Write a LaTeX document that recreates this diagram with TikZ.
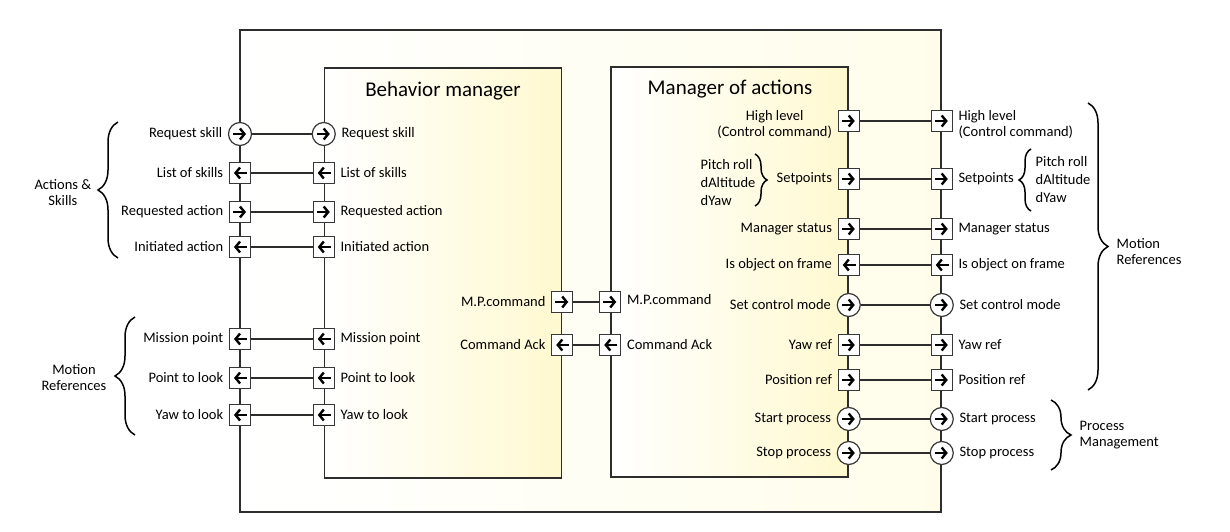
\documentclass[tikz,border=0pt]{standalone}
\usepackage{fontspec}
\setmainfont{Carlito}
\usetikzlibrary{positioning,arrows.meta,decorations.pathreplacing}
\definecolor{blockline}{RGB}{45,45,45}
\definecolor{portline}{RGB}{55,55,55}
\definecolor{outercolor}{RGB}{255,253,234}
\definecolor{innercolor}{RGB}{255,249,208}

\begin{document}
\begin{tikzpicture}[x=1pt, y=-1pt,
		% Block styles
		outerblock/.style={rectangle, draw=blockline, line width=1.5pt, left color=white, right color=outercolor,
			minimum width=701pt, minimum height=482pt},
		innerblock/.style={rectangle, draw=blockline, line width=1.5pt, left color=white, right color=innercolor,
			minimum width=237pt, minimum height=410pt},
		blocktitle/.style={font=\fontsize{21}{24}\selectfont},
		% Port styles
		sqport/.style={rectangle, draw=portline, line width=1.2pt, fill=white, minimum size=21pt, inner sep=0pt},
		cport/.style={circle, draw=portline, line width=1.2pt, fill=white, minimum size=23pt, inner sep=0pt},
		toright/.style={path picture={\draw[black, line width=2.4pt, -{Straight Barb[length=4.5pt, width=11pt]}]
				([xshift=-7pt]path picture bounding box.center) -- ([xshift=6pt]path picture bounding box.center);}},
		toleft/.style={path picture={\draw[black, line width=2.4pt, -{Straight Barb[length=4.5pt, width=11pt]}]
				([xshift=7pt]path picture bounding box.center) -- ([xshift=-6pt]path picture bounding box.center);}},
		% Connector styles
		link/.style={draw=blockline, line width=1.3pt},
		bracket/.style={decorate, decoration={brace, amplitude=#1}, line width=1.5pt},
		bracket/.default=20pt,
		% Text styles
		portlabel/.style={font=\fontsize{14.5}{16}\selectfont, inner sep=1.5pt},
		grouplabel/.style={font=\fontsize{14.5}{16}\selectfont, inner sep=1.5pt},
		listlabel/.style={font=\fontsize{14.5}{18}\selectfont, inner sep=1.5pt, align=left}
		]
		\useasboundingbox (0,0) rectangle (1230,532);
		
		% Blocks
		\node[outerblock] (system) at (590.5,271) {};
		\node[innerblock] (behavior) at (443,273) {};
		\node[innerblock] (actions) at (729.5,272) {};
		\node[blocktitle] (behavior_title) at (443,91) {Behavior manager};
		\node[blocktitle] (actions_title) at (730,89) {Manager of actions};
		
		% Ports - system left side
		\node[cport, toright] (rs_o) at (240,134) {};
		\node[portlabel, left=4pt of rs_o] (rs_o_lbl) {Request skill};
		\node[sqport, toleft] (ls_o) at (240,173) {};
		\node[portlabel, left=4pt of ls_o] (ls_o_lbl) {List of skills};
		\node[sqport, toright] (ra_o) at (240,212) {};
		\node[portlabel, left=4pt of ra_o] (ra_o_lbl) {Requested action};
		\node[sqport, toleft] (ia_o) at (240,247) {};
		\node[portlabel, left=4pt of ia_o] (ia_o_lbl) {Initiated action};
		\node[sqport, toleft] (mp_o) at (240,339) {};
		\node[portlabel, left=4pt of mp_o] (mp_o_lbl) {Mission point};
		\node[sqport, toleft] (pl_o) at (240,378) {};
		\node[portlabel, left=4pt of pl_o] (pl_o_lbl) {Point to look};
		\node[sqport, toleft] (yl_o) at (240,415) {};
		\node[portlabel, left=4pt of yl_o] (yl_o_lbl) {Yaw to look};
		
		% Ports - behavior manager left side
		\node[cport, toright] (rs_b) at (behavior.west |- rs_o) {};
		\node[portlabel, right=4pt of rs_b] (rs_b_lbl) {Request skill};
		\node[sqport, toleft] (ls_b) at (behavior.west |- ls_o) {};
		\node[portlabel, right=4pt of ls_b] (ls_b_lbl) {List of skills};
		\node[sqport, toright] (ra_b) at (behavior.west |- ra_o) {};
		\node[portlabel, right=4pt of ra_b] (ra_b_lbl) {Requested action};
		\node[sqport, toleft] (ia_b) at (behavior.west |- ia_o) {};
		\node[portlabel, right=4pt of ia_b] (ia_b_lbl) {Initiated action};
		\node[sqport, toleft] (mp_b) at (behavior.west |- mp_o) {};
		\node[portlabel, right=4pt of mp_b] (mp_b_lbl) {Mission point};
		\node[sqport, toleft] (pl_b) at (behavior.west |- pl_o) {};
		\node[portlabel, right=4pt of pl_b] (pl_b_lbl) {Point to look};
		\node[sqport, toleft] (yl_b) at (behavior.west |- yl_o) {};
		\node[portlabel, right=4pt of yl_b] (yl_b_lbl) {Yaw to look};
		
		% Ports - between behavior manager and manager of actions
		\node[sqport, toright] (mpc_b) at (behavior.east |- 0,302) {};
		\node[portlabel, left=4pt of mpc_b] (mpc_b_lbl) {M.P.command};
		\node[sqport, toleft] (ack_b) at (behavior.east |- 0,345) {};
		\node[portlabel, left=4pt of ack_b] (ack_b_lbl) {Command Ack};
		\node[sqport, toright] (mpc_m) at (actions.west |- mpc_b) {};
		\node[portlabel, right=4pt of mpc_m, yshift=2pt] (mpc_m_lbl) {M.P.command};
		\node[sqport, toleft] (ack_m) at (actions.west |- ack_b) {};
		\node[portlabel, right=4pt of ack_m] (ack_m_lbl) {Command Ack};
		
		% Ports - manager of actions right side
		\node[sqport, toright] (hl_m) at (actions.east |- 0,121) {};
		\node[portlabel, left=4pt of hl_m, yshift=-3pt, align=center] (hl_m_lbl) {High level\\(Control command)};
		\node[sqport, toright] (sp_m) at (actions.east |- 0,179) {};
		\node[portlabel, left=4pt of sp_m] (sp_m_lbl) {Setpoints};
		\node[sqport, toright] (ms_m) at (actions.east |- 0,229) {};
		\node[portlabel, left=4pt of ms_m] (ms_m_lbl) {Manager status};
		\node[sqport, toleft] (of_m) at (actions.east |- 0,265) {};
		\node[portlabel, left=4pt of of_m] (of_m_lbl) {Is object on frame};
		\node[cport, toright] (cm_m) at (actions.east |- 0,305) {};
		\node[portlabel, left=4pt of cm_m] (cm_m_lbl) {Set control mode};
		\node[sqport, toright] (yr_m) at (actions.east |- 0,345) {};
		\node[portlabel, left=4pt of yr_m] (yr_m_lbl) {Yaw ref};
		\node[sqport, toright] (pr_m) at (actions.east |- 0,380) {};
		\node[portlabel, left=4pt of pr_m] (pr_m_lbl) {Position ref};
		\node[cport, toright] (sta_m) at (actions.east |- 0,419) {};
		\node[portlabel, left=4pt of sta_m] (sta_m_lbl) {Start process};
		\node[cport, toright] (sto_m) at (actions.east |- 0,453) {};
		\node[portlabel, left=4pt of sto_m] (sto_m_lbl) {Stop process};
		
		% Ports - system right side
		\node[sqport, toright] (hl_o) at (system.east |- hl_m) {};
		\node[portlabel, right=4pt of hl_o, yshift=-3pt, align=left] (hl_o_lbl) {High level\\(Control command)};
		\node[sqport, toright] (sp_o) at (system.east |- sp_m) {};
		\node[portlabel, right=4pt of sp_o] (sp_o_lbl) {Setpoints};
		\node[sqport, toright] (ms_o) at (system.east |- ms_m) {};
		\node[portlabel, right=4pt of ms_o] (ms_o_lbl) {Manager status};
		\node[sqport, toleft] (of_o) at (system.east |- of_m) {};
		\node[portlabel, right=4pt of of_o] (of_o_lbl) {Is object on frame};
		\node[cport, toright] (cm_o) at (system.east |- cm_m) {};
		\node[portlabel, right=4pt of cm_o] (cm_o_lbl) {Set control mode};
		\node[sqport, toright] (yr_o) at (system.east |- yr_m) {};
		\node[portlabel, right=4pt of yr_o] (yr_o_lbl) {Yaw ref};
		\node[sqport, toright] (pr_o) at (system.east |- pr_m) {};
		\node[portlabel, right=4pt of pr_o] (pr_o_lbl) {Position ref};
		\node[cport, toright] (sta_o) at (system.east |- sta_m) {};
		\node[portlabel, right=4pt of sta_o] (sta_o_lbl) {Start process};
		\node[cport, toright] (sto_o) at (system.east |- sto_m) {};
		\node[portlabel, right=4pt of sto_o] (sto_o_lbl) {Stop process};
		
		% Links - left side
		\draw[link] (rs_o) -- (rs_b);
		\draw[link] (ls_o) -- (ls_b);
		\draw[link] (ra_o) -- (ra_b);
		\draw[link] (ia_o) -- (ia_b);
		\draw[link] (mp_o) -- (mp_b);
		\draw[link] (pl_o) -- (pl_b);
		\draw[link] (yl_o) -- (yl_b);
		
		% Links - middle
		\draw[link] (mpc_b) -- (mpc_m);
		\draw[link] (ack_b) -- (ack_m);
		
		% Links - right side
		\draw[link] (hl_m) -- (hl_o);
		\draw[link] (sp_m) -- (sp_o);
		\draw[link] (ms_m) -- (ms_o);
		\draw[link] (of_m) -- (of_o);
		\draw[link] (cm_m) -- (cm_o);
		\draw[link] (yr_m) -- (yr_o);
		\draw[link] (pr_m) -- (pr_o);
		\draw[link] (sta_m) -- (sta_o);
		\draw[link] (sto_m) -- (sto_o);
		
		% Setpoint lists
		\coordinate (spl_top) at (755,154);
		\coordinate (spl_bot) at (755,206);
		\draw[bracket=12pt] (spl_top) -- (spl_bot);
		\node[listlabel, anchor=west] (spl_list) at (699,183) {Pitch roll\\dAltitude\\dYaw};
		\coordinate (spr_top) at (1031,149);
		\coordinate (spr_bot) at (1031,211);
		\draw[bracket=12pt] (spr_bot) -- (spr_top);
		\node[listlabel, anchor=west] (spr_list) at (1034,180) {Pitch roll\\dAltitude\\dYaw};
		
		% Group braces
		\coordinate (as_top) at (118,122);
		\coordinate (as_bot) at (118,258);
		\draw[bracket] (as_bot) -- (as_top);
		\node[grouplabel, align=center, anchor=east] (as_lbl) at (93,193) {Actions \&\\Skills};
		
		\coordinate (mrl_top) at (135,317);
		\coordinate (mrl_bot) at (135,435);
		\draw[bracket] (mrl_bot) -- (mrl_top);
		\node[grouplabel, align=center, anchor=east] (mrl_lbl) at (108,378) {Motion\\References};
		
		\coordinate (mrr_top) at (1088,103);
		\coordinate (mrr_bot) at (1088,390);
		\draw[bracket] (mrr_top) -- (mrr_bot);
		\node[grouplabel, align=left, anchor=west] (mrr_lbl) at (1115,252) {Motion\\References};
		
		\coordinate (pm_top) at (1051,400);
		\coordinate (pm_bot) at (1051,470);
		\draw[bracket] (pm_top) -- (pm_bot);
		\node[grouplabel, align=left, anchor=west] (pm_lbl) at (1078,435) {Process\\Management};
		
	\end{tikzpicture}
\end{document}
